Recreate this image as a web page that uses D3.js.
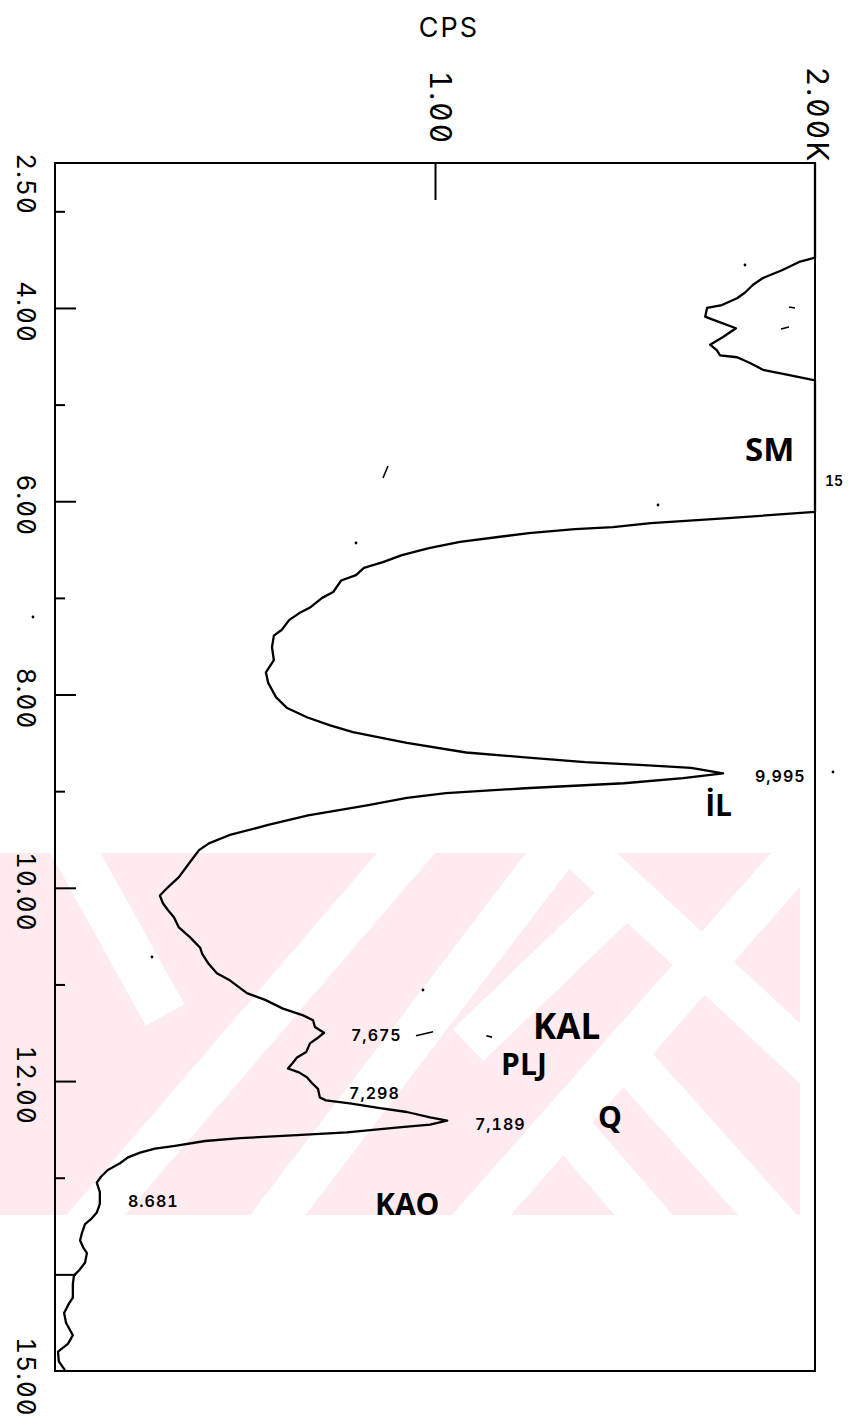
<!DOCTYPE html>
<html>
<head>
<meta charset="utf-8">
<script src="https://cdn.jsdelivr.net/npm/d3@7"></script>
<style>
  html, body { margin: 0; padding: 0; background: #fff; }
  svg { display: block; }
  .plot-text {
    font-family: Inter, 'DejaVu Sans Mono', monospace;
    font-feature-settings: "zero" 1, "tnum" 1;
    font-variant-numeric: slashed-zero tabular-nums;
  }
</style>
</head>
<body>
<svg id="chart" width="848" height="1421"></svg>
<script>
// Diffractogram scan: [2-theta (deg), intensity (counts per second)]
const scan = [
  [2.50, 2000], [3.48, 2000], [3.52, 1961], [3.61, 1913], [3.69, 1863], [3.76, 1837],
  [3.84, 1816], [3.90, 1795], [3.97, 1755], [4.00, 1716], [4.09, 1711], [4.11, 1724],
  [4.21, 1792], [4.30, 1758], [4.38, 1724], [4.44, 1742], [4.49, 1750], [4.51, 1795],
  [4.57, 1829], [4.64, 1863], [4.69, 1926], [4.75, 2000], [6.11, 2000], [6.175, 1771],
  [6.227, 1568], [6.268, 1468], [6.289, 1368], [6.33, 1247], [6.37, 1166], [6.42, 1066],
  [6.486, 984], [6.558, 913], [6.63, 863], [6.69, 813], [6.765, 792], [6.82, 753],
  [6.94, 732], [7.00, 703], [7.10, 671], [7.16, 642], [7.23, 616], [7.33, 597],
  [7.39, 576], [7.51, 571], [7.645, 576], [7.77, 555], [7.88, 561], [8.03, 582],
  [8.14, 611], [8.235, 663], [8.32, 724], [8.39, 784], [8.45, 863], [8.50, 926],
  [8.60, 1082], [8.65, 1237], [8.70, 1395], [8.73, 1550], [8.76, 1674], [8.815, 1758],
  [8.866, 1653], [8.918, 1497], [8.97, 1237], [9.02, 1029], [9.07, 926], [9.146, 821],
  [9.25, 666], [9.35, 561], [9.456, 458], [9.54, 405], [9.61, 379], [9.746, 353],
  [9.89, 326], [9.995, 297], [10.08, 276], [10.16, 284], [10.23, 297], [10.305, 313],
  [10.41, 326], [10.51, 355], [10.62, 382], [10.68, 387], [10.78, 403], [10.885, 426],
  [10.96, 461], [11.09, 505], [11.16, 553], [11.25, 600], [11.32, 653], [11.37, 679],
  [11.44, 684], [11.50, 708], [11.56, 689], [11.61, 671], [11.70, 661], [11.755, 637],
  [11.81, 626], [11.87, 613], [11.91, 642], [11.96, 663], [12.02, 676], [12.08, 692],
  [12.17, 697], [12.20, 713], [12.23, 776], [12.28, 855], [12.32, 926], [12.376, 987],
  [12.41, 1032], [12.45, 987], [12.48, 905], [12.53, 768], [12.56, 637], [12.59, 487],
  [12.62, 395], [12.67, 316], [12.70, 263], [12.74, 224], [12.79, 192], [12.85, 171],
  [12.92, 139], [12.99, 121], [13.05, 110], [13.15, 118], [13.27, 118], [13.36, 110],
  [13.42, 97], [13.48, 79], [13.57, 71], [13.65, 66], [13.72, 74], [13.78, 84],
  [13.88, 79], [13.96, 63], [14.01, 50], [14.10, 47], [14.24, 47], [14.30, 37],
  [14.40, 24], [14.50, 29], [14.63, 47], [14.72, 34], [14.80, 8], [14.90, 10], [14.99, 26]
];

// Axis ticks and labels
const angleTicksMajor = [4, 6, 8, 10, 12, 14];
const angleTicksMinor = [3, 5, 7, 9, 11, 13];
const angleLabels = [2.5, 4, 6, 8, 10, 12, 15];
const countTicks = [1000];
const countLabels = [[1000, "1.00"], [2000, "2.00K"]];

// d-spacing readouts next to the peaks: [text, 2-theta, cps]
const dSpacings = [
  ["15", 5.79, 2040],
  ["9,995", 8.84, 1842],
  ["7,675", 11.52, 779],
  ["7,298", 12.12, 774],
  ["7,189", 12.44, 1105],
  ["8.681", 13.24, 192]
];

// Mineral names written beside the peaks: [text, 2-theta, cps]
const minerals = [
  ["SM", 5.45, 1816],
  ["İL", 9.14, 1711],
  ["KAL", 11.43, 1258],
  ["PLJ", 11.82, 1174],
  ["Q", 12.37, 1429],
  ["KAO", 13.27, 842]
];

const svg = d3.select("#chart");
const plotTop = 163, plotBottom = 1371, plotLeft = 55, plotRight = 815;

const y = d3.scaleLinear().domain([2.5, 15]).range([plotTop, plotBottom]);
const x = d3.scaleLinear().domain([0, 2000]).range([plotLeft, plotRight]).clamp(true);

// Background emblem stamped across the middle of the sheet
const emb = svg.append("g");
emb.append("clipPath").attr("id", "embClip")
  .append("rect").attr("x", 0).attr("y", 853).attr("width", 800).attr("height", 362);
const embG = emb.append("g").attr("clip-path", "url(#embClip)");
embG.append("rect").attr("x", 0).attr("y", 853).attr("width", 800).attr("height", 362)
  .attr("fill", "#fdebef");
const gapStrokes = [
  "M70,1245 L430,825",
  "M255,1245 L575,825",
  "M60,825 L165,1015",
  "M455,1245 L825,825",
  "M560,830 L850,1100",
  "M617,1047 L790,1240",
  "M560,1118 L665,1240",
  "M468,1045 L640,880"
];
embG.selectAll("path.gap").data(gapStrokes).join("path")
  .attr("class", "gap")
  .attr("d", d => d)
  .attr("fill", "none")
  .attr("stroke", "#ffffff")
  .attr("stroke-width", 44)
  .attr("stroke-linecap", "butt");

// Frame
svg.append("rect")
  .attr("x", plotLeft).attr("y", plotTop)
  .attr("width", plotRight - plotLeft).attr("height", plotBottom - plotTop)
  .attr("fill", "none").attr("stroke", "#000").attr("stroke-width", 2);

// Angle axis (left side), ticks pointing into the plot
const angleAxisMajor = d3.axisRight(y).tickValues(angleTicksMajor).tickSize(21).tickFormat("");
const angleAxisMinor = d3.axisRight(y).tickValues(angleTicksMinor).tickSize(10).tickFormat("");
[angleAxisMajor, angleAxisMinor].forEach(ax => {
  const g = svg.append("g").attr("transform", `translate(${plotLeft},0)`).call(ax);
  g.select(".domain").remove();
  g.selectAll(".tick line").attr("stroke", "#000").attr("stroke-width", 2);
});

// Count axis (top), single inward tick at 1000
const countAxis = d3.axisBottom(x).tickValues(countTicks).tickSize(37).tickFormat("");
const cg = svg.append("g").attr("transform", `translate(0,${plotTop})`).call(countAxis);
cg.select(".domain").remove();
cg.selectAll(".tick line").attr("stroke", "#000").attr("stroke-width", 2);

// Rotated angle labels
svg.selectAll("text.angle").data(angleLabels).join("text")
  .attr("class", "angle plot-text")
  .attr("transform", d => {
    let yy = y(d) + 4;
    if (d === 2.5) yy = y(d) + 21;
    if (d === 15) yy = y(d) + 6;
    return `translate(26,${yy}) rotate(90)`;
  })
  .attr("text-anchor", "middle")
  .attr("dominant-baseline", "central")
  .attr("font-size", 26)
  .attr("letter-spacing", 1)
  .attr("fill", "#000")
  .text(d => d.toFixed(2));

// Rotated count labels
svg.selectAll("text.count").data(countLabels).join("text")
  .attr("class", "count plot-text")
  .attr("transform", d => `translate(${x(d[0]) + (d[0] < 2000 ? 6 : 3)},${d[1].length > 4 ? 115 : 108}) rotate(90)`)
  .attr("text-anchor", "middle")
  .attr("dominant-baseline", "central")
  .attr("font-size", 30)
  .attr("letter-spacing", 2)
  .attr("fill", "#000")
  .text(d => d[1]);

svg.append("text")
  .attr("class", "plot-text")
  .attr("x", x(1000) + 14).attr("y", 27)
  .attr("text-anchor", "middle").attr("dominant-baseline", "central")
  .attr("font-size", 27).attr("letter-spacing", 2).attr("fill", "#000")
  .text("CPS");

// Scan trace
const line = d3.line().x(d => x(d[1])).y(d => y(d[0]));
svg.append("path").datum(scan)
  .attr("d", line)
  .attr("fill", "none").attr("stroke", "#000")
  .attr("stroke-width", 2.3).attr("stroke-linejoin", "round");

// d-spacing readouts (the off-scale one sits just outside the frame)
svg.selectAll("text.dsp").data(dSpacings).join("text")
  .attr("class", "dsp plot-text")
  .attr("x", d => d[2] > 2000 ? plotRight + 10 : x(d[2]))
  .attr("y", d => y(d[1]))
  .attr("dominant-baseline", "central")
  .attr("font-size", d => d[2] > 2000 ? 14 : 16)
  .attr("font-weight", 600)
  .attr("letter-spacing", d => d[2] > 2000 ? 0 : 1)
  .attr("fill", "#000")
  .text(d => d[0]);

// small pen strokes and specks on the sheet
const specks = [[745, 265], [658, 505], [356, 543], [152, 957], [423, 990], [833, 772], [33, 617]];
svg.selectAll("circle.speck").data(specks).join("circle")
  .attr("class", "speck")
  .attr("cx", d => d[0]).attr("cy", d => d[1]).attr("r", 1.4).attr("fill", "#000");
const penMarks = [
  `M${x(950)},${y(11.53)} L${x(995)},${y(11.49)}`,
  `M${x(1135)},${y(11.53)} L${x(1150)},${y(11.545)}`,
  "M789,307 L795,308",
  "M781,329 L789,327",
  "M383,478 L388,466"
];
svg.selectAll("path.pen").data(penMarks).join("path")
  .attr("class", "pen")
  .attr("d", d => d)
  .attr("stroke", "#000").attr("stroke-width", 1.6).attr("fill", "none");

// Mineral names
svg.selectAll("text.min").data(minerals).join("text")
  .attr("class", "min")
  .attr("x", d => x(d[2]))
  .attr("y", d => y(d[1]))
  .attr("dominant-baseline", "central")
  .attr("font-family", "'Open Sans', 'DejaVu Sans', sans-serif")
  .attr("font-weight", 700)
  .attr("font-size", d => d[0] === "KAL" ? 35 : (d[0] === "SM" ? 33 : 30))
  .attr("fill", "#000")
  .text(d => d[0]);
</script>
</body>
</html>
